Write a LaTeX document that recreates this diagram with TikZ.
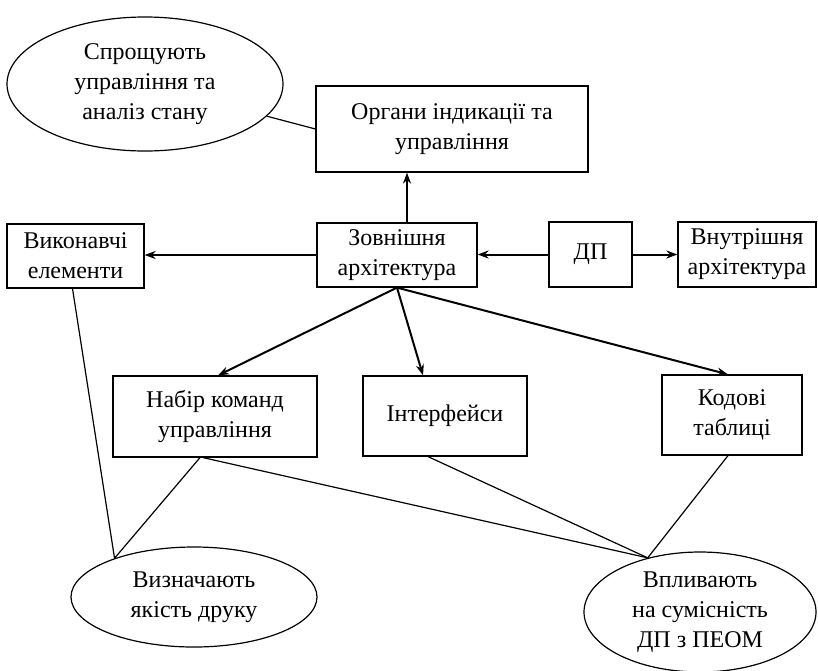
\documentclass[tikz,border=0pt]{standalone}
\usepackage{fontspec}
\setmainfont{Liberation Serif}
\usetikzlibrary{shapes.geometric,arrows.meta,calc}
\tikzset{
  box/.style={draw,line width=1.2pt,rectangle,inner sep=0pt,align=center,font=\fontsize{24}{30}\selectfont},
  oval/.style={draw,line width=1.2pt,ellipse,inner sep=0pt,align=center,font=\fontsize{24}{30}\selectfont},
  arr/.style={line width=2pt,-{Stealth[length=11pt,width=8pt]}},
  lnk/.style={line width=1.2pt}
}
\begin{document}
\begin{tikzpicture}[x=1pt,y=-1pt]
\useasboundingbox (0,0) rectangle (818,670);
\node[oval,minimum width=276pt,minimum height=134pt] (sp) at (145,84) {Спрощують\\управління та\\аналіз стану};
\node[box,minimum width=272pt,minimum height=86pt] (org) at (452,129) {Органи індикації та\\управління};
\node[box,minimum width=137pt,minimum height=64pt] (vyk) at (75.5,256) {Виконавчі\\елементи};
\node[box,minimum width=160pt,minimum height=64pt] (zov) at (397,255) {Зовнішня\\архітектура};
\node[box,minimum width=83pt,minimum height=65pt] (dp) at (590.5,254.5) {ДП};
\node[box,minimum width=138pt,minimum height=65pt] (vnu) at (747,254.5) {Внутрішня\\архітектура};
\node[box,minimum width=204pt,minimum height=81pt] (nab) at (215,416.5) {Набір команд\\управління};
\node[box,minimum width=164pt,minimum height=80pt] (int) at (445,416) {Інтерфейси};
\node[box,minimum width=140pt,minimum height=80pt] (kod) at (732,415) {Кодові\\таблиці};
\node[oval,minimum width=246pt,minimum height=100pt] (viz) at (194,597) {Визначають\\якість друку};
\node[oval,minimum width=232pt,minimum height=120pt] (vpl) at (700,612) {Впливають\\на сумісність\\ДП з ПЕОМ};

\draw[arr] ([xshift=10pt]zov.north) -- ([xshift=10pt]zov.north |- org.south);
\draw[arr] (dp.west) -- (zov.east |- dp.west);
\draw[arr] (dp.east) -- (vnu.west |- dp.east);
\draw[arr] (zov.west) -- (vyk.east |- zov.west);
\draw[arr] (zov.south) -- ([xshift=3pt]nab.north);
\draw[arr] (zov.south) -- ([xshift=-22pt]int.north);
\draw[arr] (zov.south) -- ([xshift=-4pt]kod.north);

\draw[lnk] (sp) -- (org.west);
\draw[lnk] ([xshift=-3pt]vyk.south) -- (viz.154);
\draw[lnk] ([xshift=-15pt]nab.south) -- (viz.154);
\draw[lnk] ([xshift=-12pt]nab.south) -- (vpl.134);
\draw[lnk] ([xshift=-17pt]int.south) -- (vpl.134);
\draw[lnk] ([xshift=-4pt]kod.south) -- (vpl.134);
\end{tikzpicture}
\end{document}
